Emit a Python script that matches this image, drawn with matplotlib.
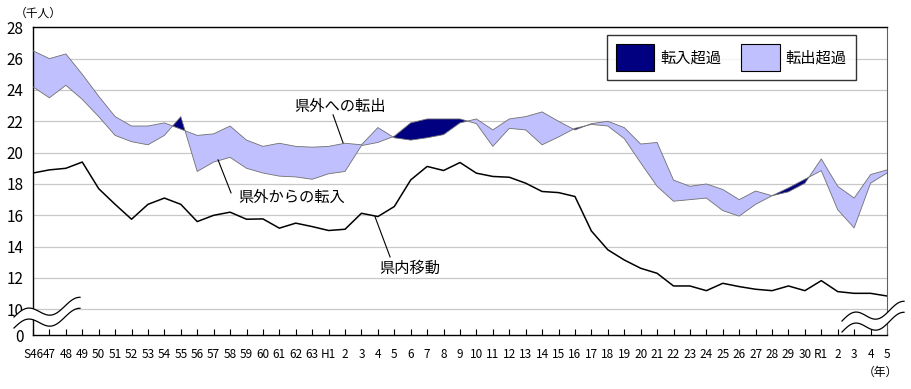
import numpy as np
import matplotlib.pyplot as plt
from matplotlib.patches import Patch, Polygon

plt.rcParams['font.family'] = ['Noto Sans CJK JP', 'DejaVu Sans']

# 年 (S46 - R5)
year_labels = ['S46', '47', '48', '49', '50', '51', '52', '53', '54', '55',
               '56', '57', '58', '59', '60', '61', '62', '63',
               'H1', '2', '3', '4', '5', '6', '7', '8', '9', '10',
               '11', '12', '13', '14', '15', '16', '17', '18', '19', '20',
               '21', '22', '23', '24', '25', '26', '27', '28', '29', '30',
               'R1', '2', '3', '4', '5']

# 県外への転出 (千人)
tenshutsu = [26.5, 26.0, 26.3, 25.0, 23.6, 22.3, 21.7, 21.7, 21.9, 21.5,
             21.1, 21.2, 21.7, 20.8, 20.4, 20.6, 20.4, 20.35, 20.4, 20.6,
             20.5, 21.6, 20.95, 20.8, 20.95, 21.15, 21.9, 22.15, 21.45, 22.15,
             22.3, 22.6, 22.0, 21.45, 21.85, 22.0, 21.6, 20.55, 20.65, 18.25,
             17.85, 18.0, 17.65, 17.0, 17.55, 17.25, 17.5, 18.05, 19.6, 17.85,
             17.1, 18.6, 18.9]

# 県外からの転入 (千人)
tennyu = [24.2, 23.5, 24.3, 23.4, 22.3, 21.1, 20.7, 20.5, 21.1, 22.3,
          18.8, 19.4, 19.7, 19.0, 18.7, 18.5, 18.45, 18.3, 18.65, 18.8,
          20.45, 20.65, 21.05, 21.9, 22.15, 22.15, 22.15, 21.85, 20.4, 21.55,
          21.45, 20.5, 21.0, 21.55, 21.8, 21.7, 20.9, 19.35, 17.85, 16.9,
          17.0, 17.1, 16.3, 15.95, 16.7, 17.25, 17.75, 18.3, 18.85, 16.35,
          15.2, 18.05, 18.7]

# 県内移動 (千人)
kennai = [18.7, 18.9, 19.0, 19.4, 17.7, 16.7, 15.75, 16.7, 17.1, 16.7,
          15.6, 16.0, 16.2, 15.75, 15.77, 15.18, 15.5, 15.28, 15.03, 15.11,
          16.13, 15.92, 16.56, 18.26, 19.12, 18.86, 19.37, 18.69, 18.48, 18.43,
          18.05, 17.52, 17.45, 17.2, 15.0, 13.8, 13.15, 12.62, 12.3, 11.49,
          11.49, 11.19, 11.66, 11.45, 11.28, 11.19, 11.49, 11.19, 11.83, 11.13,
          11.02, 11.02, 10.85]

y_ticks = [10, 12, 14, 16, 18, 20, 22, 24, 26, 28]

x = np.arange(len(year_labels))
out_ = np.array(tenshutsu)
in_ = np.array(tennyu)

fig = plt.figure(figsize=(9.12, 3.89), dpi=100)
ax = fig.add_axes([33 / 912, 1 - 335 / 389, 854 / 912, 308 / 389])

y_bottom = 8.36   # 波線で省略した 0 の位置
ax.set_xlim(0, len(year_labels) - 1)
ax.set_ylim(y_bottom, 28.02)

for v in y_ticks:
    ax.axhline(v, color='#c8c8c8', lw=0.9, zorder=0)

# 転出超過 / 転入超過 の塗り分け
ax.fill_between(x, in_, out_, where=out_ >= in_, interpolate=True,
                color='#c0c0ff', lw=0, zorder=2)
ax.fill_between(x, in_, out_, where=in_ >= out_, interpolate=True,
                color='#000080', lw=0, zorder=2)
ax.plot(x, out_, color='#707070', lw=0.6, zorder=3)
ax.plot(x, in_, color='#707070', lw=0.6, zorder=3)
ax.plot(x, kennai, color='black', lw=1.1, zorder=4)

# 軸
ax.set_yticks([y_bottom] + y_ticks)
ax.set_yticklabels(['0'] + [str(v) for v in y_ticks], fontsize=11)
ax.tick_params(axis='y', length=0, pad=7)
ax.set_xticks(x)
ax.set_xticklabels(year_labels, fontsize=8.5)
ax.tick_params(axis='x', direction='in', length=4, width=0.8, pad=9)
for s in ['left', 'bottom', 'top']:
    ax.spines[s].set_color('black')
    ax.spines[s].set_linewidth(1.0)
ax.spines['right'].set_color('#606060')
ax.spines['right'].set_linewidth(0.8)

fig.text(15 / 912, 1 - 13 / 389, '（千人）', fontsize=8.5, va='center', ha='left')
fig.text(880 / 912, 1 - 372 / 389, '（年）', fontsize=8.5, va='center', ha='center')

# 吹き出し
def px(xp, yp):
    return (xp - 33) / 16.42, 10 + (309.3 - yp) / 15.65

lab_kw = dict(fontsize=11, va='center', ha='center', zorder=6)
ax.text(*px(340, 107), '県外への転出', **lab_kw)
ax.text(*px(292, 198), '県外からの転入', **lab_kw)
ax.text(*px(410, 268), '県内移動', **lab_kw)
for (x0, y0), (x1, y1) in [((333, 115), (343, 143)),
                           ((231, 193), (218, 160)),
                           ((390, 257), (375, 217))]:
    a = px(x0, y0)
    b = px(x1, y1)
    ax.plot([a[0], b[0]], [a[1], b[1]], color='black', lw=0.8, zorder=5)

# 凡例
handles = [Patch(facecolor='#000080', edgecolor='black', lw=0.8, label='転入超過'),
           Patch(facecolor='#c0c0ff', edgecolor='black', lw=0.8, label='転出超過')]
leg = ax.legend(handles=handles, ncol=2, loc='upper left',
                bbox_to_anchor=((607 - 33) / 854, (335 - 35) / 308),
                fontsize=11, frameon=True, fancybox=False,
                handlelength=2.5, handleheight=2.3, handletextpad=0.4,
                columnspacing=1.3, borderpad=0.6, borderaxespad=0)
leg.get_frame().set_edgecolor('black')
leg.get_frame().set_linewidth(1.0)
leg.set_zorder(7)

# 波線 (軸の省略記号)
def wave_break(x0, y0, width):
    t = np.linspace(0, 1, 80)
    xs = x0 + t * width
    up = y0 - 6 * np.sin(2 * np.pi * t * 1.3) - 14 * t
    lo = up + 11
    pts_up = np.column_stack([xs, 389 - up])
    pts_lo = np.column_stack([xs, 389 - lo])
    poly = Polygon(np.vstack([pts_up, pts_lo[::-1]]), closed=True,
                   facecolor='white', edgecolor='none',
                   transform=None, zorder=10)
    fig.add_artist(poly)
    for pts in (pts_up, pts_lo):
        fig.add_artist(plt.Line2D(pts[:, 0], pts[:, 1], color='black',
                                  lw=0.9, transform=None, zorder=11))

wave_break(14, 317, 66)
wave_break(842, 321, 62)

fig.savefig('out.png', dpi=100)
